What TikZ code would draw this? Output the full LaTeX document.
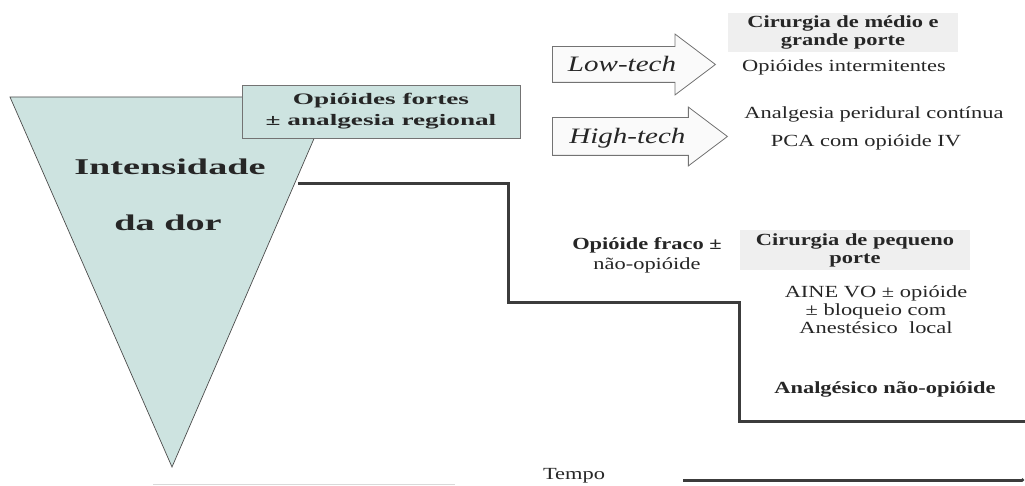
\documentclass[tikz,border=0pt]{standalone}
\usepackage{fontspec}
\setmainfont{Liberation Serif}[FakeStretch=1.32]
\newfontfamily\widefont{Liberation Serif}[FakeStretch=1.7]
\usetikzlibrary{shapes.arrows,arrows.meta}
\definecolor{funnel}{HTML}{CDE3E0}
\definecolor{stepgray}{HTML}{3C3C3C}
\definecolor{surggray}{HTML}{EFEFEF}
\tikzset{
  txt/.style={font=\fontsize{17}{17}\selectfont,text=black!85,align=center,inner sep=0pt},
  boldtxt/.style={txt,font=\fontsize{17}{18}\selectfont\bfseries},
  bigtxt/.style={txt,font=\widefont\fontsize{22.5}{24}\selectfont\bfseries},
  techarrow/.style={single arrow,draw=black!55,fill=gray!4,line width=0.8pt,
    single arrow tip angle=74,anchor=tail,inner xsep=0pt,
    text height=15pt,text depth=0pt,
    font=\fontsize{22}{24}\selectfont\itshape,text=black!85},
  surgbox/.style={boldtxt,fill=surggray,minimum width=230pt},
  stepline/.style={draw=stepgray,line width=3pt,line join=miter}
}
\begin{document}
\begin{tikzpicture}[x=1pt,y=-1pt]
\useasboundingbox (0,0) rectangle (1025,486);
% intensidade (funil)
\coordinate (f1) at (10,97);
\coordinate (f2) at (332,97);
\coordinate (f3) at (172,467);
\draw[fill=funnel,draw=black!70,line width=0.7pt] (f1) -- (f2) -- (f3) -- cycle;
\node[bigtxt] (intens) at (170,167) {Intensidade};
\node[bigtxt] (dador) at (168,223) {da dor};
\node[txt,draw=black!55,fill=funnel,line width=0.8pt,minimum width=278pt,minimum height=53pt,
  font=\widefont\fontsize{16}{21}\selectfont\bfseries] (fortes) at (381,111.5) {Opióides fortes\\± analgesia regional};
% degraus
\coordinate (s0) at (298,184);
\coordinate (s1) at (508,184);
\coordinate (s2) at (508,302);
\coordinate (s3) at (739,302);
\coordinate (s4) at (739,421);
\coordinate (s5) at (1025,421);
\draw[stepline] (s0) -- (s1) -- (s2) -- (s3) -- (s4) -- (s5);
% setas
\node[techarrow,minimum height=163pt,inner ysep=10pt,single arrow head extend=12.5pt] (low) at (552,64.5) {Low-tech};
\node[techarrow,minimum height=175pt,inner ysep=11pt,single arrow head extend=10.5pt] (high) at (552,136.5) {High-tech};
% cirurgia de medio e grande porte
\node[surgbox,minimum height=39pt] (medio) at (843,32.5) {Cirurgia de médio e\\grande porte};
\node[txt] (intermit) at (844,67) {Opióides intermitentes};
\node[txt] (peridural) at (874,114) {Analgesia peridural contínua};
\node[txt] (pca) at (866,142) {PCA com opióide IV};
% cirurgia de pequeno porte
\node[surgbox,minimum height=40pt] (pequeno) at (855,250) {Cirurgia de pequeno\\porte};
\node[txt,font=\fontsize{17}{20}\selectfont] (fraco) at (647,255) {\textbf{Opióide fraco ±}\\não-opióide};
\node[txt,font=\fontsize{17}{18}\selectfont] (aine) at (876,310) {AINE VO ± opióide\\± bloqueio com\\Anestésico\ \ local};
\node[boldtxt] (naoopi) at (885,389) {Analgésico não-opióide};
% tempo
\node[txt] (tempo) at (574,476) {Tempo};
\coordinate (t0) at (683,480);
\coordinate (t1) at (1024,480);
\draw[stepgray,line width=3pt,-{Circle[open,length=3pt]}] (t0) -- (t1);
\coordinate (g0) at (153,484);
\coordinate (g1) at (455,484);
\draw[black!15,line width=1pt] (g0) -- (g1);
\end{tikzpicture}
\end{document}
